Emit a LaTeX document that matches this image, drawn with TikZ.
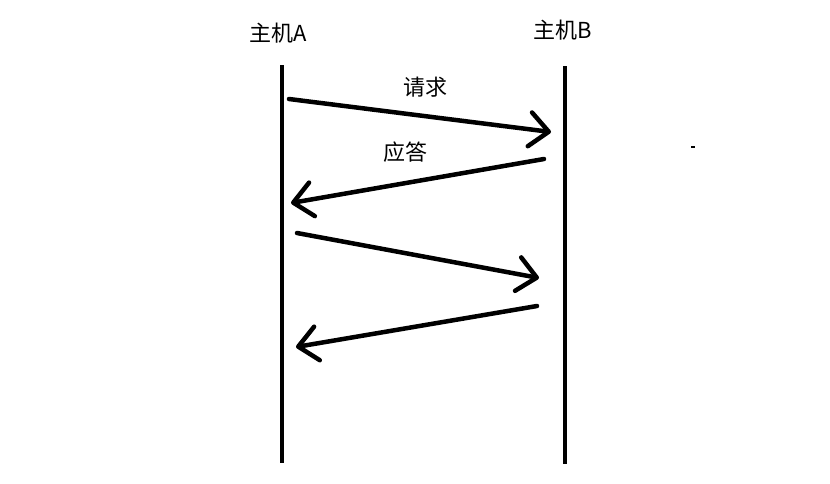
\documentclass[tikz,border=0pt]{standalone}
\usepackage{fontspec}
\setmainfont{Noto Sans CJK SC}
\usepackage{tikz}
\usetikzlibrary{arrows.meta, positioning}

\begin{document}
\begin{tikzpicture}[
  x=1pt, y=-1pt,
  host/.style={font=\fontsize{22}{26}\selectfont, inner sep=0pt},
  lbl/.style={font=\fontsize{22}{26}\selectfont, inner sep=0pt},
  life/.style={line width=4.5pt},
  msg/.style={-{Straight Barb[length=19pt,width=34pt,line cap=round,line join=round]},
              line width=4.5pt, line cap=round}
]
\useasboundingbox (0,0) rectangle (830,483);

\node[host] (A) at (278,33) {主机A};
\node[host] (B) at (563,30) {主机B};

% lifelines
\coordinate (Atop) at (282,65);
\coordinate (Abot) at (282,463);
\coordinate (Btop) at (565,66);
\coordinate (Bbot) at (565,464);
\draw[life] (Atop) -- (Abot);
\draw[life] (Btop) -- (Bbot);

% message end points
\coordinate (m1s) at (289,99);
\coordinate (m1e) at (551,132);
\coordinate (m2s) at (544,159);
\coordinate (m2e) at (291,203);
\coordinate (m3s) at (297,233);
\coordinate (m3e) at (539,278);
\coordinate (m4s) at (537,306);
\coordinate (m4e) at (296,347);

\draw[msg] (m1s) -- (m1e);
\draw[msg] (m2s) -- (m2e);
\draw[msg] (m3s) -- (m3e);
\draw[msg] (m4s) -- (m4e);

\node[lbl] (req) at (425,87) {请求};
\node[lbl] (ack) at (405,152) {应答};

\fill (691,146) rectangle (695,148);
\end{tikzpicture}
\end{document}
